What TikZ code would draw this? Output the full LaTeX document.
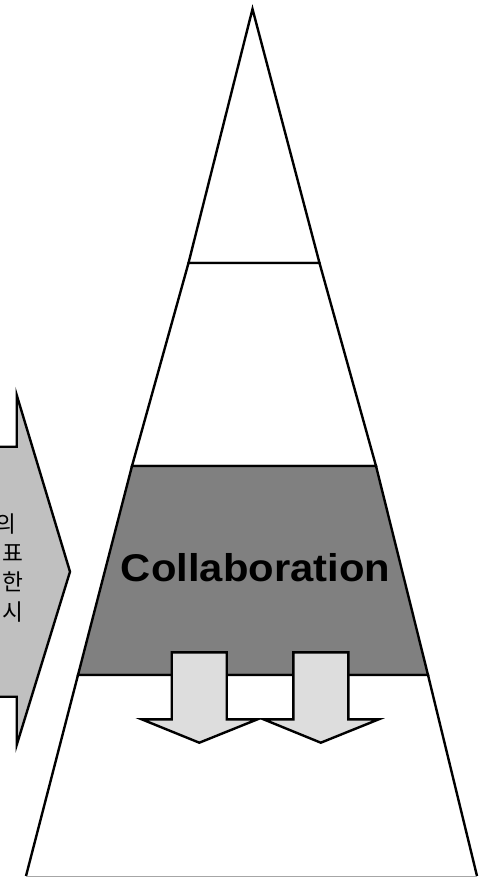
\documentclass[tikz,border=0pt]{standalone}
\usepackage{fontspec}
\setmainfont{Liberation Sans}
\newfontfamily\kfont{Noto Sans CJK KR}
\newfontfamily\collabfont[FakeStretch=1.08]{Liberation Sans}
\definecolor{midgray}{HTML}{808080}
\definecolor{lightarrow}{HTML}{DDDDDD}
\definecolor{sidearrow}{HTML}{C0C0C0}
\begin{document}
\begin{tikzpicture}[x=0.75pt,y=-0.75pt,
  sect/.style={draw=black,line width=1.8pt,line join=miter},
  downarrow/.style={draw=black,line width=1.8pt,fill=lightarrow,line join=miter},
  ktext/.style={font=\kfont\fontsize{17}{20}\selectfont,anchor=base east,inner sep=0pt}]
\useasboundingbox (0,0) rectangle (484,877);
\clip (0,0) rectangle (484,877);
% pyramid sections
\draw[sect,fill=white] (252.5,9) -- (319.5,263) -- (188.5,263) -- cycle;
\draw[sect,fill=white] (188.5,263) -- (319.5,263) -- (376,466) -- (132,466) -- cycle;
\draw[sect,fill=midgray] (132,466) -- (376,466) -- (428,675) -- (78,675) -- cycle;
\fill[white] (78,675) -- (428,675) -- (477,876) -- (26,876) -- cycle;
\draw[sect] (26,876) -- (78,675) -- (428,675) -- (477,876);
\draw[line width=1pt,color=black!35] (26,876.5) -- (477,876.5);
% left big arrow
\draw[sect,fill=sidearrow] (-10,446.7) -- (16.7,446.7) -- (16.7,395) -- (70,571.7)
  -- (16.7,745) -- (16.7,696.7) -- (-10,696.7) -- cycle;
\node[ktext] (k1) at (16.5,532) {의};
\node[ktext] (k2) at (23.5,561) {표};
\node[ktext] (k3) at (23.5,590) {한};
\node[ktext] (k4) at (23.5,620) {시};
% down arrows
\draw[downarrow] (171.7,652.3) -- (226.7,652.3) -- (226.7,719.3) -- (257.5,719.3)
  -- (199.3,742.7) -- (141.7,719.3) -- (171.7,719.3) -- cycle;
\draw[downarrow] (293.3,652.3) -- (348.3,652.3) -- (348.3,719.3) -- (378.8,719.3)
  -- (320.8,742.7) -- (263.5,719.3) -- (293.3,719.3) -- cycle;
% label
\node[font=\collabfont\bfseries\fontsize{29}{34}\selectfont,anchor=base,inner sep=0pt] (collab) at (255.5,581) {Collaboration};
\end{tikzpicture}
\end{document}
